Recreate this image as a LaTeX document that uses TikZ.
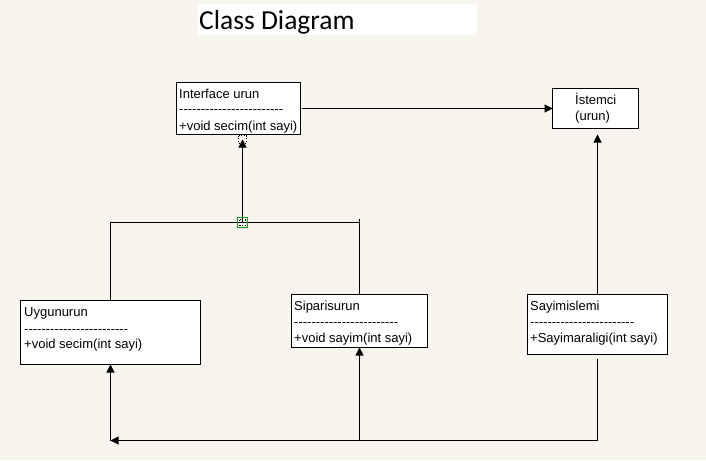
\documentclass[tikz,border=0pt]{standalone}
\usepackage{fontspec}
\setmainfont{Liberation Sans}
\newfontfamily\titlefont{Carlito}
\usetikzlibrary{arrows.meta}
\definecolor{bg}{HTML}{F8F5EF}
\definecolor{selgreen}{HTML}{1A9A1A}
\def\hy{-\kern0pt}
\newcommand\dashrow{\hy\hy\hy\hy\hy\hy\hy\hy\hy\hy\hy\hy\hy\hy\hy\hy\hy\hy\hy\hy\hy\hy\hy\hy}
\tikzset{
  classbox/.style={draw, line width=1pt, fill=white, anchor=north west, inner sep=0pt, outer sep=0pt},
  txt/.style={anchor=base west, inner sep=0pt, font=\fontsize{13}{15}\selectfont},
  conn/.style={line width=1pt},
  arr/.style={line width=1pt, -{Triangle[length=8pt,width=8pt]}},
  handle/.style={dotted, line width=0.9pt}
}
\begin{document}
\begin{tikzpicture}[x=1pt,y=-1pt]
\useasboundingbox[fill=bg] (0,0) rectangle (706,460);
% title
\fill[white] (198,4) rectangle (477,35);
\node[anchor=base west, inner sep=0pt, font=\titlefont\fontsize{27.5}{30}\selectfont] (title) at (199,30) {Class Diagram};
% boxes
\node[classbox, minimum width=124pt, minimum height=52pt] (iface) at (176.5,82.5) {};
\node[classbox, minimum width=86pt, minimum height=40pt] (ist) at (552.5,88.5) {};
\node[classbox, minimum width=180pt, minimum height=64pt] (uyg) at (20.5,300.5) {};
\node[classbox, minimum width=136pt, minimum height=53pt] (sip) at (291.5,294.5) {};
\node[classbox, minimum width=140pt, minimum height=60pt] (say) at (527.5,294.5) {};
% texts
\node[txt] (iface1) at (179,98.5) {Interface urun};
\node[txt] (iface2) at (179,113.6) {\dashrow};
\node[txt] (iface3) at (179,130) {+void secim(int sayi)};
\node[txt] (ist1) at (575,104.3) {İstemci};
\node[txt] (ist2) at (575,120) {(urun)};
\node[txt] (uyg1) at (24,316) {Uygunurun};
\node[txt] (uyg2) at (24,333.5) {\dashrow};
\node[txt] (uyg3) at (24,348) {+void secim(int sayi)};
\node[txt] (sip1) at (294,310) {Siparisurun};
\node[txt] (sip2) at (294,326) {\dashrow};
\node[txt] (sip3) at (294,342) {+void sayim(int sayi)};
\node[txt] (say1) at (530,310) {Sayimislemi};
\node[txt] (say2) at (530,326) {\dashrow};
\node[txt] (say3) at (530,342) {+Sayimaraligi(int sayi)};
% coordinates
\coordinate (j) at (242.5,222.5);
\coordinate (jr) at (359.5,218.5);
\coordinate (bl) at (110.5,440.5);
% connectors
\draw[arr, shorten <=1pt] (iface.east) -- (iface.east -| ist.west);
\draw[arr, shorten >=5pt] (j) -- (j |- iface.south);
\draw[conn] (uyg.north) |- (j) -- (j -| jr);
\draw[conn] (jr) -- (sip.north);
\draw[arr, shorten >=6pt] (say.north) -- (say.north |- ist.south);
\draw[arr, shorten <=4pt] (say.south) |- (bl);
\draw[arr] (bl) -- (uyg.south);
\draw[arr] (sip.south |- bl) -- (sip.south);
% selection handles
\draw[handle] (238.5,135.5) rectangle (246.5,143.5);
\draw[selgreen, line width=1pt] (237.5,217.5) rectangle (247.5,227.5);
\draw[handle] (239.5,219.5) rectangle (245.5,225.5);
\end{tikzpicture}
\end{document}
